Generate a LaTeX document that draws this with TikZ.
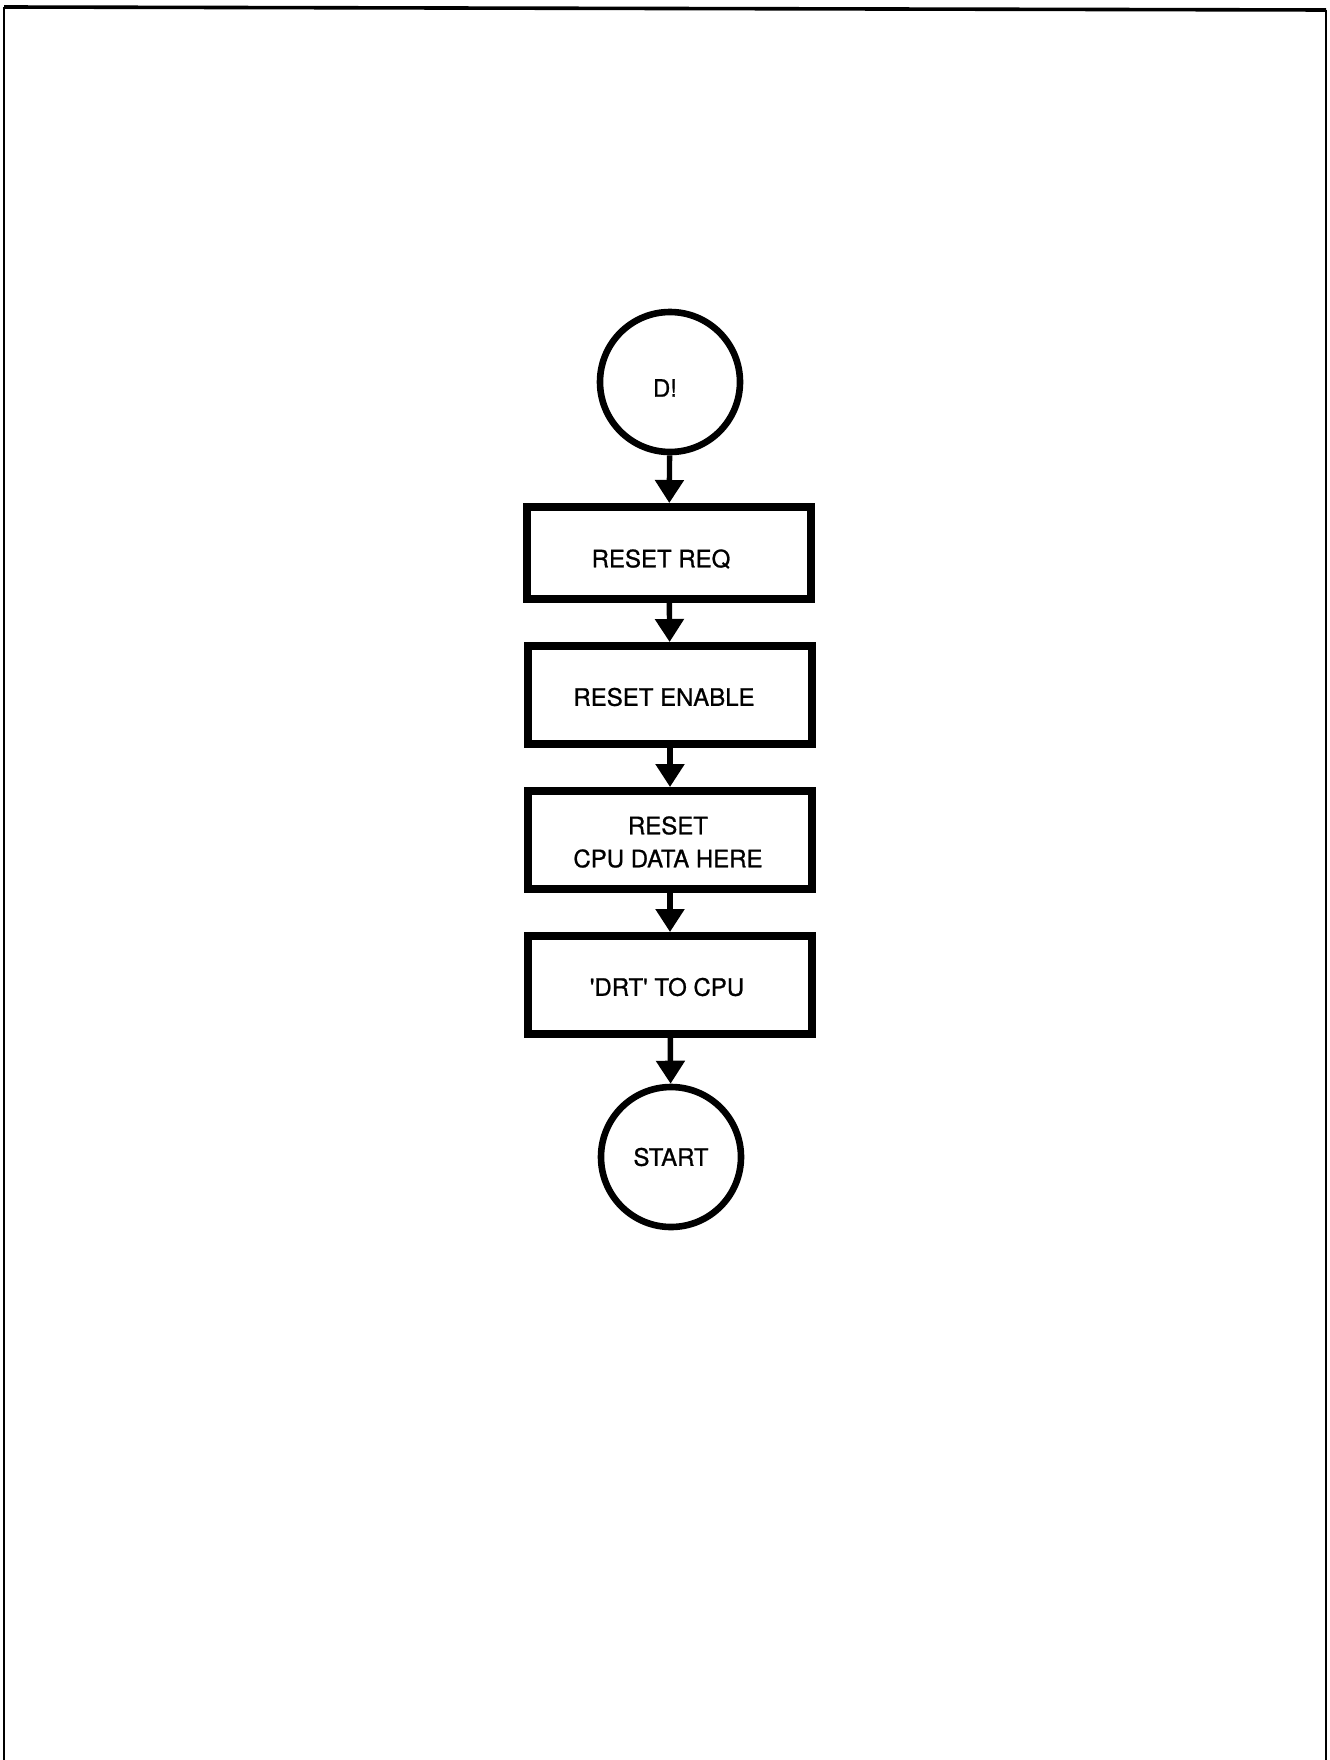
\documentclass[tikz,border=0pt]{standalone}
\usepackage{fontspec}
\setmainfont{TeX Gyre Heros}
\newfontfamily\flowfont{TeX Gyre Heros}[FakeBold=0.9]
\usetikzlibrary{arrows.meta}
\begin{document}
\begin{tikzpicture}[x=0.5pt,y=-0.5pt,
  txt/.style={font=\flowfont\fontsize{12}{16.5}\selectfont, align=center},
  flowbox/.style={draw, line width=4pt, minimum width=142pt, inner sep=0pt},
  term/.style={draw, circle, line width=3.3pt, minimum size=70pt, inner sep=0pt},
  flow/.style={line width=2.7pt, -{Triangle[length=11.5pt,width=14pt]}},
  frame/.style={line width=1.2pt}]
\useasboundingbox (0,0) rectangle (1329,1760);
% page frame (open at the bottom)
\coordinate (tl) at (4,7);
\coordinate (tr) at (1326,10);
\coordinate (bl) at (4,1760);
\coordinate (br) at (1326,1760);
\draw[frame, line width=1.8pt] (tl) -- (tr);
\draw[frame] (tl) -- (bl);
\draw[frame, line width=0.8pt] (tr) -- (br);
% flowchart shapes
\node[term] (d) at (670,382) {};
\node[flowbox, minimum height=46pt] (b1) at (669,553) {};
\node[flowbox, minimum height=49pt] (b2) at (670,695) {};
\node[flowbox, minimum height=49pt] (b3) at (670,840) {};
\node[flowbox, minimum height=49pt] (b4) at (670,985) {};
\node[term] (s) at (671,1157) {};
% texts
\node[txt] (td) at ([xshift=-2.5pt,yshift=-3pt]d.center) {D!};
\node[txt] (t1) at ([xshift=-4pt,yshift=-3pt]b1.center) {RESET REQ};
\node[txt] (t2) at ([xshift=-3pt,yshift=-1pt]b2.center) {RESET ENABLE};
\node[txt] (t3) at ([xshift=-1pt,yshift=-1pt]b3.center) {RESET\\CPU DATA HERE};
\node[txt] (t4) at ([xshift=-1.5pt,yshift=-1pt]b4.center) {\textquotesingle DRT\textquotesingle\ TO CPU};
\node[txt] (ts) at (s.center) {START};
% connectors
\draw[flow] (d) -- (b1);
\draw[flow] (b1) -- (b2);
\draw[flow] (b2) -- (b3);
\draw[flow] (b3) -- (b4);
\draw[flow] (b4) -- (s);
\end{tikzpicture}
\end{document}
